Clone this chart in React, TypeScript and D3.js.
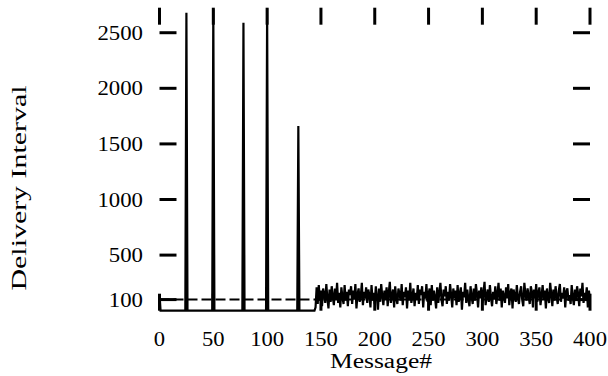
import React from "react";
import * as d3 from "d3";

// Message index range and tick values
const xTicks = [0, 50, 100, 150, 200, 250, 300, 350, 400];
const yTicks = [100, 500, 1000, 1500, 2000, 2500];
const yTickLabels = ["100", "500", "1000", "1500", "2000", "2500"];

// Early phase: messages 0..144 sit on the floor except for a few long stalls
const earlyCount = 145;
const earlyBase = [150, 0];
const stallMessages = [25, 50, 78, 100, 129];
const stallIntervals = [2680, 2710, 2590, 2720, 1660];

// Steady phase: messages 145..400
const steadyStart = 145;
const steadyIntervals = [
  30, 210, 60, 230, 90, 180, 40, 200, 150, 70, 240, 110, 20, 190, 80, 220,
  130, 50, 200, 100, 250, 70, 160, 30, 210, 120, 60, 230, 90, 170, 40, 190,
  140, 220, 60, 180, 100, 240, 20, 150, 200, 80, 130, 250, 50, 170, 110, 210,
  70, 190, 140, 30, 230, 90, 160, 60, 220, 120, 10, 200, 80, 240, 130, 50,
  180, 100, 210, 40, 160, 260, 70, 140, 190, 30, 220, 110, 60, 200, 150, 90,
  240, 50, 170, 120, 210, 20, 180, 90, 250, 70, 130, 200, 40, 160, 100, 230,
  60, 190, 140, 220, 30, 170, 110, 240, 80, 150, 200, 50, 230, 90, 180, 120,
  20, 210, 70, 160, 250, 100, 40, 190, 130, 220, 60, 170, 90, 240, 140, 30,
  200, 110, 180, 50, 230, 80, 150, 210, 10, 170, 120, 250, 70, 190, 100, 40,
  220, 130, 60, 200, 90, 240, 150, 30, 180, 110, 210, 70, 160, 260, 50, 140,
  190, 80, 230, 120, 40, 170, 100, 220, 60, 150, 250, 90, 200, 30, 180, 130,
  70, 210, 110, 240, 50, 160, 200, 20, 190, 140, 80, 230, 120, 60, 170, 220,
  100, 40, 250, 150, 90, 200, 130, 60, 220, 170, 30, 190, 110, 240, 80, 160,
  210, 50, 140, 230, 100, 180, 20, 200, 120, 70, 250, 150, 40, 190, 90, 220,
  130, 60, 180, 240, 80, 160, 110, 210, 30, 170, 200, 90, 140, 60, 230, 120,
  50, 190, 100, 220, 150, 40, 200, 130, 250, 70, 160, 110, 210, 30, 180, 90,
];

// Target interval shown as a dashed reference
const targetInterval = 100;

const W = 608;
const H = 376;
const FONT = "'Liberation Serif', 'Times New Roman', serif";

export default function App() {
  const x = d3.scaleLinear().domain([0, 400]).range([159.5, 590]);
  const y = d3.scaleLinear().domain([0, 2725]).range([310.7, 7.7]);

  const points: [number, number][] = [];
  for (let m = 0; m < earlyCount; m++) {
    const si = stallMessages.indexOf(m);
    const v = si >= 0 ? stallIntervals[si] : m < earlyBase.length ? earlyBase[m] : 0;
    points.push([m, v]);
  }
  steadyIntervals.forEach((v, i) => points.push([steadyStart + i, v]));

  const line = d3
    .line<[number, number]>()
    .x((d) => x(d[0]))
    .y((d) => y(d[1]));

  const tickLen = 17;
  const top = y(2725);
  const bottom = y(0);
  const left = x(0);
  const right = x(400);

  return (
    <div style={{ position: "fixed", left: 0, top: 0 }}>
      <svg width={W} height={H} style={{ display: "block", background: "#fff" }}>
        {/* dashed target line */}
        <line
          x1={x(0)}
          x2={x(400)}
          y1={y(targetInterval)}
          y2={y(targetInterval)}
          stroke="#000"
          strokeWidth={2}
          strokeDasharray="10 4"
        />
        {/* delivery interval trace */}
        <path d={line(points) ?? ""} fill="none" stroke="#000" strokeWidth={2.2} strokeLinejoin="miter" />

        {/* inward ticks on all four sides */}
        <g stroke="#000" strokeWidth={3}>
          {xTicks.map((t) => (
            <g key={"xt" + t}>
              <line x1={x(t)} x2={x(t)} y1={top} y2={top + tickLen} />
              <line x1={x(t)} x2={x(t)} y1={bottom} y2={bottom - tickLen} />
            </g>
          ))}
          {yTicks.map((t) => (
            <g key={"yt" + t}>
              <line x1={left} x2={left + tickLen} y1={y(t)} y2={y(t)} />
              <line x1={right} x2={right - tickLen} y1={y(t)} y2={y(t)} />
            </g>
          ))}
        </g>

        {/* tick labels */}
        <g fontFamily={FONT} fontSize={20} fill="#000">
          {xTicks.map((t) => {
            const s = String(t);
            return (
              <text
                key={"xl" + t}
                x={x(t)}
                y={346}
                textAnchor="middle"
                textLength={s.length * 11.3}
                lengthAdjust="spacingAndGlyphs"
              >
                {s}
              </text>
            );
          })}
          {yTicks.map((t, i) => {
            const s = yTickLabels[i];
            return (
              <text
                key={"yl" + t}
                x={143}
                y={y(t) + 7}
                textAnchor="end"
                textLength={s.length * 11.4}
                lengthAdjust="spacingAndGlyphs"
              >
                {s}
              </text>
            );
          })}
        </g>

        {/* axis titles */}
        <text
          x={381}
          y={368}
          textAnchor="middle"
          fontFamily={FONT}
          fontSize={20}
          textLength={102}
          lengthAdjust="spacingAndGlyphs"
        >
          Message#
        </text>
        <text
          transform="translate(26,188) rotate(-90)"
          textAnchor="middle"
          fontFamily={FONT}
          fontSize={21}
          textLength={205}
          lengthAdjust="spacingAndGlyphs"
        >
          Delivery Interval
        </text>
      </svg>
    </div>
  );
}
